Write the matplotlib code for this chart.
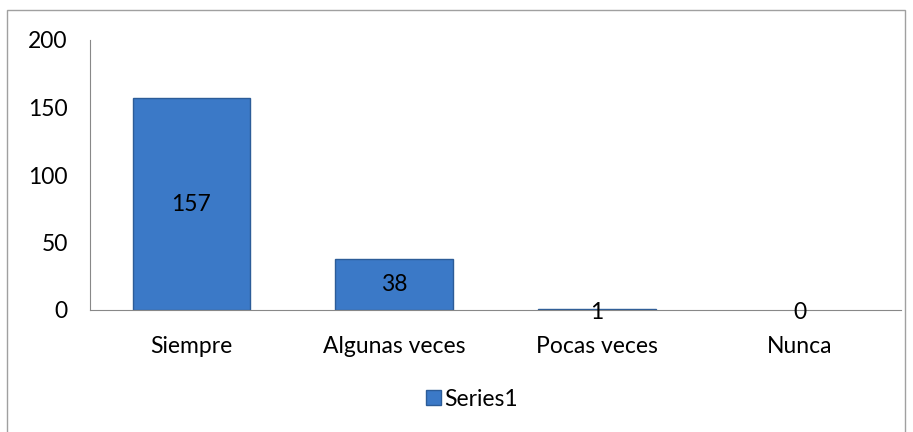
import matplotlib.pyplot as plt
from matplotlib.patches import Rectangle

categorias = ['Siempre', 'Algunas veces', 'Pocas veces', 'Nunca']
valores = [157, 38, 1, 0]
ticks_y = [0, 50, 100, 150, 200]

plt.rcParams['font.family'] = ['Lato', 'DejaVu Sans']

fig = plt.figure(figsize=(9.13, 4.32), dpi=100)
ax = fig.add_axes([90/913, 1-310/432, 811/913, 270/432])

# marco exterior del grafico
fig.patches.append(Rectangle((7/913, -0.1), 898/913, 1.1 - 10/432, transform=fig.transFigure,
                             fill=False, edgecolor='#a0a0a0', linewidth=1))

x = range(len(categorias))
anchos = [1 if v > 0 else 0 for v in valores]
barras = ax.bar(x, valores, width=0.58, color='#3b79c7', edgecolor='#2c5c98', linewidth=anchos)

for i, v in enumerate(valores):
    ax.text(i, v/2 if v > 5 else -1.5, str(v), ha='center', va='center', fontsize=16.5, color='black')

ax.set_xlim(-0.5, len(categorias) - 0.5)
ax.set_ylim(0, 200)
ax.set_yticks(ticks_y)
ax.set_xticks(list(x))
ax.set_xticklabels(categorias)
ax.tick_params(axis='both', length=0, labelsize=16.5)
ax.tick_params(axis='y', pad=16)
ax.tick_params(axis='x', pad=19)

for s in ['top', 'right']:
    ax.spines[s].set_visible(False)
ax.spines['left'].set_color('#888888')
ax.spines['bottom'].set_color('#888888')

ax.legend([barras[0]], ['Series1'], loc='center', bbox_to_anchor=(472/913, 1-399/432),
          bbox_transform=fig.transFigure, frameon=False, fontsize=16.5,
          handlelength=0.65, handleheight=0.65, handletextpad=0.15)

fig.savefig('out.png', dpi=100)
